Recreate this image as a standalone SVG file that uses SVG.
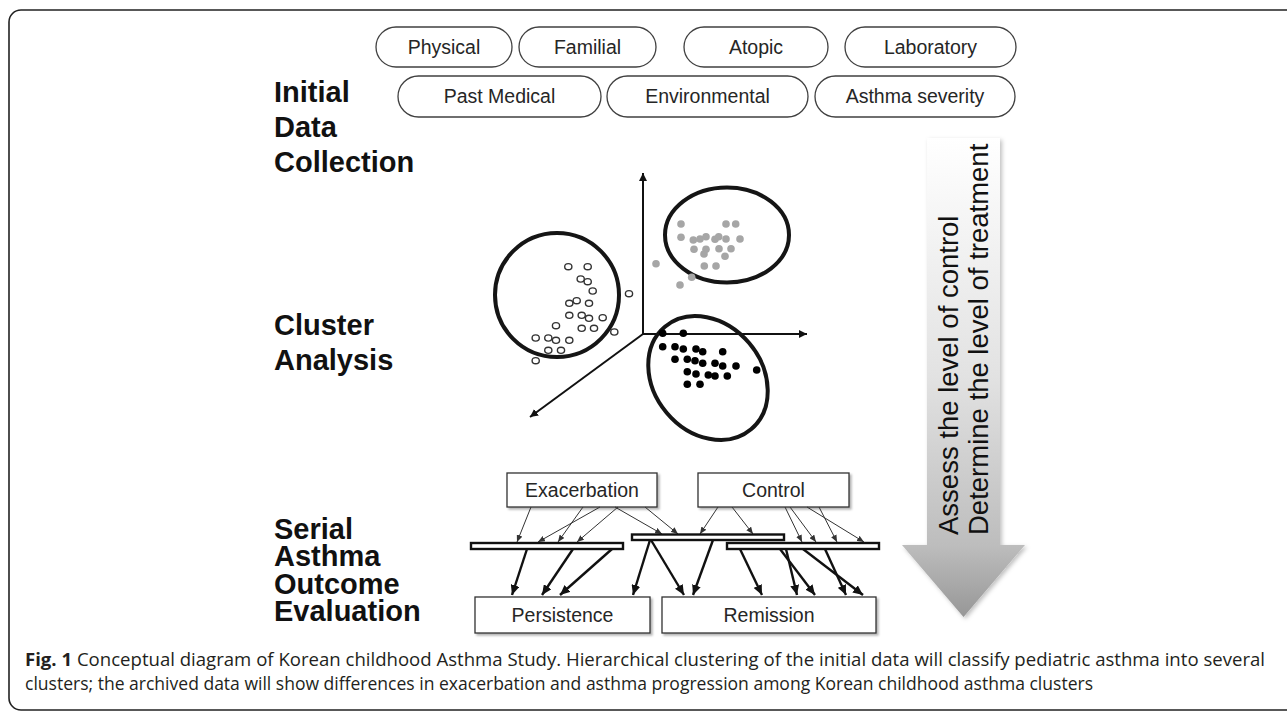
<svg xmlns="http://www.w3.org/2000/svg" width="1287" height="713" viewBox="0 0 1287 713">
<defs>
<style>
.pill{fill:#fff;stroke:#404040;stroke-width:1.3}
.pt{font-family:"Liberation Sans",Arial,sans-serif;font-size:19.5px;fill:#262626;text-anchor:middle}
.lbl{font-family:"Liberation Sans",Arial,sans-serif;font-size:29px;font-weight:bold;fill:#111}
.box{fill:#fff;stroke:#333;stroke-width:1.3;filter:url(#sh)}
.bar{fill:#fff;stroke:#111;stroke-width:2.4}
.thin{stroke:#333;stroke-width:1;fill:none;marker-end:url(#mThin)}
.thick{stroke:#111;stroke-width:2.4;fill:none;marker-end:url(#mThick)}
.axis{stroke:#111;stroke-width:2;fill:none}
.ring{fill:none;stroke:#151515;stroke-width:4}
.od{fill:#fff;stroke:#333;stroke-width:1.4}
.gd{fill:#a6a6a6}
.bd{fill:#000}
.cap{font-family:"Open Sans","Noto Sans",sans-serif;font-size:17.5px;fill:#231f20}
.vt{font-family:"Liberation Sans",Arial,sans-serif;font-size:27.5px;fill:#111}
</style>
<marker id="mThin" viewBox="0 0 7 6" refX="7" refY="3" markerWidth="7" markerHeight="6" markerUnits="userSpaceOnUse" orient="auto"><path d="M0,0 L7,3 L0,6 z" fill="#333"/></marker>
<marker id="mThick" viewBox="0 0 10 9" refX="10" refY="4.5" markerWidth="10" markerHeight="9" markerUnits="userSpaceOnUse" orient="auto"><path d="M0,0 L10,4.5 L0,9 z" fill="#111"/></marker>
<marker id="mAx" viewBox="0 0 8 8" refX="8" refY="4" markerWidth="8" markerHeight="8" markerUnits="userSpaceOnUse" orient="auto"><path d="M0,0 L8,4 L0,8 z" fill="#111"/></marker>
<linearGradient id="ag" x1="0" y1="0" x2="0" y2="1">
<stop offset="0" stop-color="#ffffff"/>
<stop offset="0.5" stop-color="#e2e2e2"/>
<stop offset="0.85" stop-color="#bdbdbd"/>
<stop offset="1" stop-color="#979797"/>
</linearGradient>
<filter id="sh" x="-10%" y="-20%" width="130%" height="150%"><feDropShadow dx="2" dy="2" stdDeviation="1.2" flood-color="#000" flood-opacity="0.3"/></filter>
<filter id="ash" x="-20%" y="-5%" width="140%" height="115%"><feDropShadow dx="2" dy="2" stdDeviation="2" flood-color="#000" flood-opacity="0.25"/></filter>
</defs>
<rect width="1287" height="713" fill="#fff"/>
<rect x="9" y="10" width="1300" height="700" rx="12" fill="none" stroke="#222" stroke-width="1.6"/>

<g id="pill-physical"><rect class="pill" x="376" y="27" width="136" height="40" rx="20"/><text class="pt" x="444" y="54">Physical</text></g>
<g id="pill-familial"><rect class="pill" x="519" y="27" width="137" height="40" rx="20"/><text class="pt" x="587.5" y="54">Familial</text></g>
<g id="pill-atopic"><rect class="pill" x="684" y="27" width="144" height="40" rx="20"/><text class="pt" x="756" y="54">Atopic</text></g>
<g id="pill-laboratory"><rect class="pill" x="845" y="27" width="171" height="40" rx="20"/><text class="pt" x="930.5" y="54">Laboratory</text></g>
<g id="pill-pastmedical"><rect class="pill" x="398" y="76" width="203" height="41" rx="20.5"/><text class="pt" x="499.5" y="103">Past Medical</text></g>
<g id="pill-environmental"><rect class="pill" x="607" y="76" width="201" height="41" rx="20.5"/><text class="pt" x="707.5" y="103">Environmental</text></g>
<g id="pill-severity"><rect class="pill" x="815" y="76" width="200" height="41" rx="20.5"/><text class="pt" x="915" y="103">Asthma severity</text></g>

<g id="label-initial"><text class="lbl" x="274" y="102">Initial</text><text class="lbl" x="274" y="137">Data</text><text class="lbl" x="274" y="172">Collection</text></g>
<g id="label-cluster"><text class="lbl" x="274" y="335">Cluster</text><text class="lbl" x="274" y="370">Analysis</text></g>
<g id="label-serial"><text class="lbl" x="274" y="538.5">Serial</text><text class="lbl" x="274" y="566">Asthma</text><text class="lbl" x="274" y="593.5">Outcome</text><text class="lbl" x="274" y="621">Evaluation</text></g>

<g id="scatter">
<line class="axis" x1="643" y1="334" x2="643" y2="173" marker-end="url(#mAx)"/>
<line class="axis" x1="643" y1="334" x2="807" y2="334" marker-end="url(#mAx)"/>
<line class="axis" x1="643" y1="334" x2="530" y2="417" marker-end="url(#mAx)"/>
<circle class="ring" cx="557" cy="295" r="62"/>
<ellipse class="ring" cx="727" cy="235" rx="62" ry="47.5"/>
<ellipse class="ring" cx="708" cy="378" rx="54" ry="67" transform="rotate(-40 708 378)"/>
<g>
<ellipse class="od" cx="568.3" cy="266.7" rx="3.6" ry="3.1"/><ellipse class="od" cx="587.7" cy="266.7" rx="3.6" ry="3.1"/>
<ellipse class="od" cx="580.7" cy="279" rx="3.6" ry="3.1"/><ellipse class="od" cx="587.7" cy="281.7" rx="3.6" ry="3.1"/>
<ellipse class="od" cx="592.7" cy="291" rx="3.6" ry="3.1"/><ellipse class="od" cx="629" cy="293.7" rx="3.6" ry="3.1"/>
<ellipse class="od" cx="569.3" cy="303.3" rx="3.6" ry="3.1"/><ellipse class="od" cx="576.7" cy="300.7" rx="3.6" ry="3.1"/>
<ellipse class="od" cx="589" cy="303.3" rx="3.6" ry="3.1"/><ellipse class="od" cx="569.3" cy="315.3" rx="3.6" ry="3.1"/>
<ellipse class="od" cx="581.7" cy="315.3" rx="3.6" ry="3.1"/><ellipse class="od" cx="589" cy="318.3" rx="3.6" ry="3.1"/>
<ellipse class="od" cx="602.7" cy="317.7" rx="3.6" ry="3.1"/><ellipse class="od" cx="556" cy="325.7" rx="3.6" ry="3.1"/>
<ellipse class="od" cx="581.7" cy="328.3" rx="3.6" ry="3.1"/><ellipse class="od" cx="594" cy="328.3" rx="3.6" ry="3.1"/>
<ellipse class="od" cx="614.3" cy="332" rx="3.6" ry="3.1"/><ellipse class="od" cx="535.7" cy="338" rx="3.6" ry="3.1"/>
<ellipse class="od" cx="548.3" cy="338" rx="3.6" ry="3.1"/><ellipse class="od" cx="556" cy="340.3" rx="3.6" ry="3.1"/>
<ellipse class="od" cx="569.3" cy="340.3" rx="3.6" ry="3.1"/><ellipse class="od" cx="548.3" cy="350.3" rx="3.6" ry="3.1"/>
<ellipse class="od" cx="561" cy="350.3" rx="3.6" ry="3.1"/><ellipse class="od" cx="535.7" cy="360.7" rx="3.6" ry="3.1"/>
</g>
<g>
<circle class="gd" cx="681" cy="224" r="3.8"/><circle class="gd" cx="726" cy="224" r="3.8"/><circle class="gd" cx="735.7" cy="224" r="3.8"/>
<circle class="gd" cx="681" cy="237.3" r="3.8"/><circle class="gd" cx="693.3" cy="240" r="3.8"/><circle class="gd" cx="700" cy="239" r="3.8"/>
<circle class="gd" cx="706" cy="236.7" r="3.8"/><circle class="gd" cx="715" cy="239.3" r="3.8"/><circle class="gd" cx="718.7" cy="236.7" r="3.8"/>
<circle class="gd" cx="726" cy="239" r="3.8"/><circle class="gd" cx="740" cy="239" r="3.8"/><circle class="gd" cx="694" cy="249.3" r="3.8"/>
<circle class="gd" cx="706" cy="249.3" r="3.8"/><circle class="gd" cx="704" cy="254" r="3.8"/><circle class="gd" cx="719" cy="248.7" r="3.8"/>
<circle class="gd" cx="731" cy="248.7" r="3.8"/><circle class="gd" cx="725" cy="256.3" r="3.8"/><circle class="gd" cx="656" cy="263.7" r="3.8"/>
<circle class="gd" cx="704.3" cy="266" r="3.8"/><circle class="gd" cx="716" cy="266" r="3.8"/><circle class="gd" cx="691.7" cy="277.3" r="3.8"/>
<circle class="gd" cx="680" cy="285" r="3.8"/>
</g>
<g>
<circle class="bd" cx="662.7" cy="333.3" r="3.8"/><circle class="bd" cx="683.3" cy="333.3" r="3.8"/><circle class="bd" cx="662.7" cy="346.7" r="3.8"/>
<circle class="bd" cx="675" cy="346.7" r="3.8"/><circle class="bd" cx="683.3" cy="349" r="3.8"/><circle class="bd" cx="696" cy="349" r="3.8"/>
<circle class="bd" cx="702.7" cy="351.7" r="3.8"/><circle class="bd" cx="722.7" cy="351.7" r="3.8"/><circle class="bd" cx="675" cy="359.3" r="3.8"/>
<circle class="bd" cx="687.3" cy="359.3" r="3.8"/><circle class="bd" cx="695" cy="360.7" r="3.8"/><circle class="bd" cx="702.7" cy="363.3" r="3.8"/>
<circle class="bd" cx="715" cy="363.3" r="3.8"/><circle class="bd" cx="722.7" cy="366" r="3.8"/><circle class="bd" cx="736" cy="366" r="3.8"/>
<circle class="bd" cx="756.7" cy="370" r="3.8"/><circle class="bd" cx="687.3" cy="371.7" r="3.8"/><circle class="bd" cx="696" cy="374" r="3.8"/>
<circle class="bd" cx="708.3" cy="375" r="3.8"/><circle class="bd" cx="715" cy="376" r="3.8"/><circle class="bd" cx="727.3" cy="376" r="3.8"/>
<circle class="bd" cx="687.3" cy="384.3" r="3.8"/><circle class="bd" cx="700" cy="384.3" r="3.8"/>
</g>
</g>

<g id="node-exacerbation"><rect class="box" x="507" y="473" width="150" height="34"/><text class="pt" x="582" y="497">Exacerbation</text></g>
<g id="node-control"><rect class="box" x="698" y="473" width="151" height="34"/><text class="pt" x="773.5" y="497">Control</text></g>
<g id="node-persistence"><rect class="box" x="475" y="597" width="175" height="36"/><text class="pt" x="562.5" y="622">Persistence</text></g>
<g id="node-remission"><rect class="box" x="662" y="597" width="214" height="36"/><text class="pt" x="769" y="622">Remission</text></g>

<g id="connectors">
<line class="thin" x1="531" y1="507" x2="517" y2="542"/>
<line class="thin" x1="583" y1="507" x2="558" y2="542"/>
<line class="thin" x1="600" y1="507" x2="538" y2="542"/>
<line class="thin" x1="618" y1="507" x2="577" y2="542"/>
<line class="thin" x1="615" y1="507" x2="662" y2="534"/>
<line class="thin" x1="645" y1="507" x2="678" y2="534"/>
<line class="thin" x1="718" y1="507" x2="700" y2="534"/>
<line class="thin" x1="732" y1="507" x2="753" y2="534"/>
<line class="thin" x1="785" y1="507" x2="802" y2="542"/>
<line class="thin" x1="790" y1="507" x2="816" y2="542"/>
<line class="thin" x1="807" y1="507" x2="864" y2="542"/>
<line class="thin" x1="819" y1="507" x2="837" y2="542"/>
<line class="thick" x1="527" y1="549" x2="512" y2="595"/>
<line class="thick" x1="573" y1="549" x2="542" y2="595"/>
<line class="thick" x1="612" y1="549" x2="560" y2="595"/>
<line class="thick" x1="650" y1="540" x2="633" y2="595"/>
<line class="thick" x1="651" y1="540" x2="684" y2="595"/>
<line class="thick" x1="713" y1="540" x2="693" y2="595"/>
<line class="thick" x1="740" y1="549" x2="762" y2="595"/>
<line class="thick" x1="780" y1="549" x2="815" y2="595"/>
<line class="thick" x1="786" y1="549" x2="797" y2="595"/>
<line class="thick" x1="803" y1="549" x2="863" y2="595"/>
<line class="thick" x1="825" y1="549" x2="846" y2="595"/>
</g>
<g id="bars">
<rect class="bar" x="471" y="543" width="152" height="6"/>
<rect class="bar" x="632" y="534.5" width="152" height="5.5"/>
<rect class="bar" x="727" y="543" width="152" height="6"/>
</g>

<g id="big-arrow">
<path d="M927,138 L1000,138 L1000,545 L1025,545 L963.5,617 L902,545 L927,545 Z" fill="url(#ag)" filter="url(#ash)"/>
<text class="vt" transform="translate(958 535) rotate(-90)">Assess the level of control</text>
<text class="vt" transform="translate(988 535) rotate(-90)">Determine the level of treatment</text>
</g>

<g id="caption">
<text class="cap" x="25" y="666" textLength="1240" lengthAdjust="spacingAndGlyphs"><tspan font-weight="bold">Fig. 1</tspan> Conceptual diagram of Korean childhood Asthma Study. Hierarchical clustering of the initial data will classify pediatric asthma into several</text>
<text class="cap" x="25" y="690" textLength="1068" lengthAdjust="spacingAndGlyphs">clusters; the archived data will show differences in exacerbation and asthma progression among Korean childhood asthma clusters</text>
</g>
</svg>
